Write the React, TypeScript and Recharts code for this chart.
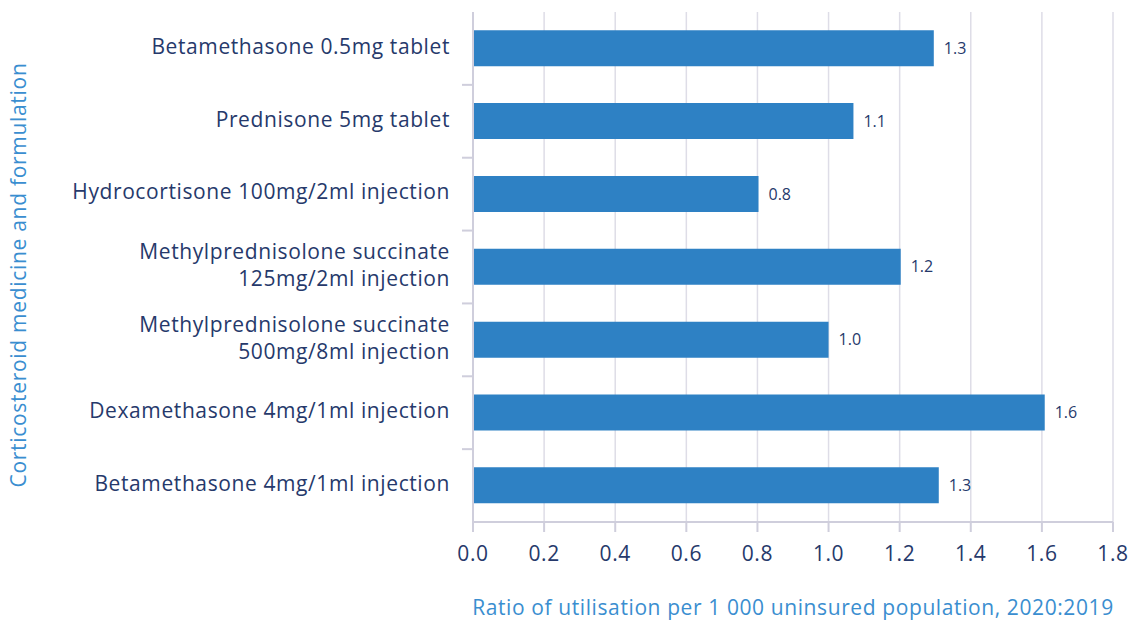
import { BarChart, Bar, XAxis, YAxis, CartesianGrid, LabelList, Label } from 'recharts'

const categories = [
  'Betamethasone 0.5mg tablet',
  'Prednisone 5mg tablet',
  'Hydrocortisone 100mg/2ml injection',
  'Methylprednisolone succinate\n125mg/2ml injection',
  'Methylprednisolone succinate\n500mg/8ml injection',
  'Dexamethasone 4mg/1ml injection',
  'Betamethasone 4mg/1ml injection',
]
const ratios = [1.296, 1.07, 0.803, 1.203, 1.0, 1.608, 1.31]
const xTicks = [0, 0.2, 0.4, 0.6, 0.8, 1.0, 1.2, 1.4, 1.6, 1.8]

const xTitle = 'Ratio of utilisation per 1 000 uninsured population, 2020:2019'
const yTitle = 'Corticosteroid medicine and formulation'

const data = categories.map((name, i) => ({ name, value: ratios[i] }))

const W = 1131
const H = 622
const MARGIN = { top: 12, right: 18, bottom: 0, left: 0 }
const X_AXIS_H = 100
const Y_AXIS_W = 473
const BAND = (H - MARGIN.top - MARGIN.bottom - X_AXIS_H) / categories.length

const FONT = '"Open Sans", sans-serif'
const NAVY = '#26396b'
const TITLE_BLUE = '#3a8ed0'
const BAR = '#2e81c4'
const AXIS = '#cfcedc'
const GRID = '#deddE7'

// category label, plus a small tick at the boundary above each band
function CategoryTick(props: any) {
  const { x, y, payload, index } = props
  const lines = String(payload.value).split('\n')
  const lh = 27
  const start = -((lines.length - 1) * lh) / 2
  return (
    <g>
      {index > 0 && (
        <line x1={x - 11} x2={x} y1={y - BAND / 2} y2={y - BAND / 2} stroke={AXIS} strokeWidth={2} />
      )}
      <text textAnchor="end" fill={NAVY} fontSize={21} letterSpacing={0.6} fontFamily={FONT}>
        {lines.map((l, i) => (
          <tspan key={i} x={x - 23} y={y + start + i * lh - 2} dy="0.35em">
            {l}
          </tspan>
        ))}
      </text>
    </g>
  )
}

export default function App() {
  return (
    <div style={{ position: 'absolute', left: 0, top: 0, width: W, height: H, background: '#fff' }}>
      <BarChart width={W} height={H} data={data} layout="vertical" margin={MARGIN} barCategoryGap="25%">
        <CartesianGrid horizontal={false} stroke={GRID} strokeWidth={1.5} />
        <XAxis
          type="number"
          domain={[0, 1.8]}
          ticks={xTicks}
          interval={0}
          height={X_AXIS_H}
          tickFormatter={(v: number) => v.toFixed(1)}
          tick={{ fill: NAVY, fontSize: 21, fontFamily: FONT, letterSpacing: 0.6 }}
          tickSize={10}
          tickMargin={14}
          stroke={AXIS}
          axisLine={{ stroke: AXIS, strokeWidth: 2 }}
          tickLine={{ stroke: AXIS, strokeWidth: 2 }}
        >
          <Label
            content={({ viewBox }: any) => (
              <text
                x={viewBox.x + viewBox.width / 2}
                y={615}
                textAnchor="middle"
                fill={TITLE_BLUE}
                fontSize={21}
                letterSpacing={0.6}
                fontFamily={FONT}
              >
                {xTitle}
              </text>
            )}
          />
        </XAxis>
        <YAxis
          type="category"
          dataKey="name"
          width={Y_AXIS_W}
          interval={0}
          tick={<CategoryTick />}
          tickLine={false}
          tickSize={0}
          tickMargin={0}
          axisLine={{ stroke: AXIS, strokeWidth: 2 }}
        >
          <Label
            content={({ viewBox }: any) => (
              <text
                x={0}
                y={0}
                transform={`translate(26, ${viewBox.y + viewBox.height / 2 + 8}) rotate(-90)`}
                textAnchor="middle"
                fill={TITLE_BLUE}
                fontSize={21}
                letterSpacing={0.7}
                fontFamily={FONT}
              >
                {yTitle}
              </text>
            )}
          />
        </YAxis>
        <Bar dataKey="value" fill={BAR} isAnimationActive={false}>
          <LabelList
            dataKey="value"
            position="right"
            offset={10}
            fill={NAVY}
            fontSize={16}
            fontFamily={FONT}
            formatter={(v: any) => Number(v).toFixed(1)}
          />
        </Bar>
      </BarChart>
    </div>
  )
}
